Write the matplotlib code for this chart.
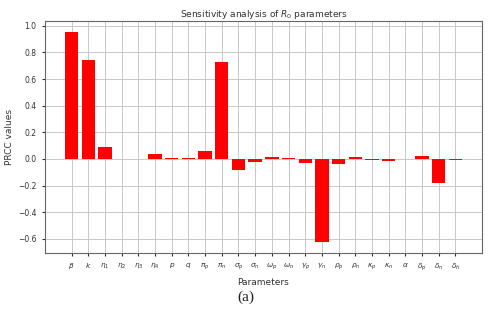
import numpy as np
import matplotlib
matplotlib.use('Agg')
import matplotlib.pyplot as plt

# parametros y valores PRCC
parametros = [r'$\beta$', r'$k$', r'$\eta_1$', r'$\eta_2$', r'$\eta_3$', r'$\eta_4$',
              r'$p$', r'$q$', r'$\pi_p$', r'$\pi_n$', r'$\sigma_p$', r'$\sigma_n$',
              r'$\omega_p$', r'$\omega_n$', r'$\gamma_p$', r'$\gamma_n$', r'$\rho_p$',
              r'$\rho_n$', r'$\kappa_p$', r'$\kappa_n$', r'$\alpha$', r'$\delta_p$',
              r'$\delta_n$', r'$\delta_h$']
prcc = [0.957, 0.740, 0.092, 0.0, 0.0, 0.037,
        0.006, 0.010, 0.060, 0.726, -0.080, -0.025,
        0.015, 0.005, -0.033, -0.627, -0.040,
        0.017, -0.010, -0.018, 0.0, 0.020,
        -0.183, -0.004]

fig = plt.figure(figsize=(4.93, 3.11), dpi=100)
ax = fig.add_axes([45/493, 1 - 253/311, (482-45)/493, (253-21)/311])

x = np.arange(len(parametros))
ax.bar(x, prcc, color='red', width=0.8, zorder=3)
ax.set_xticks(x)
ax.set_xticklabels(parametros, fontsize=5.3)
ax.tick_params(axis='y', labelsize=5.5, length=2.5, colors='#333333')
ax.tick_params(axis='x', length=2.5, colors='#333333')
ax.grid(True, color='#c8c8c8', linewidth=0.7, zorder=0)
for s in ax.spines.values():
    s.set_color('#666666')
    s.set_linewidth(0.8)

ax.set_title(r'Sensitivity analysis of $R_0$ parameters', fontsize=6.5, color='#333333', pad=3)
ax.set_xlabel('Parameters', fontsize=6.5, color='#333333', labelpad=4)
ax.set_ylabel('PRCC values', fontsize=6.5, color='#333333', labelpad=3)

fig.text(246/493, 1 - 297/311, '(a)', ha='center', va='center',
         fontsize=11, family='Liberation Serif', color='#222222')

fig.savefig('out.png', dpi=100)
